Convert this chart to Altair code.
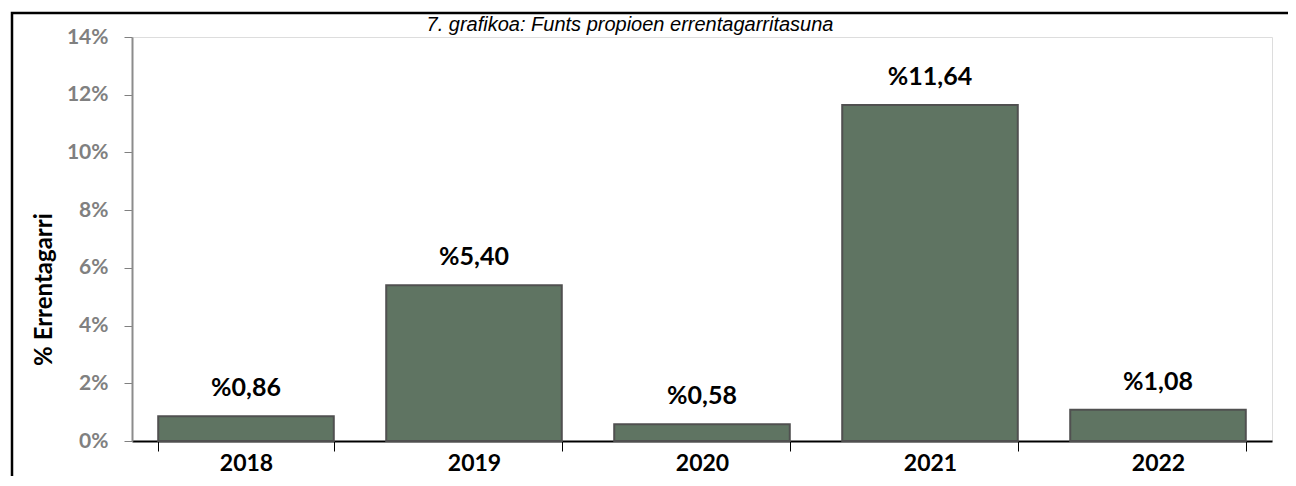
import altair as alt
import pandas as pd

years = ["2018", "2019", "2020", "2021", "2022"]
values = [0.86, 5.40, 0.58, 11.64, 1.08]
labels = ["%0,86", "%5,40", "%0,58", "%11,64", "%1,08"]
y_ticks = [0, 2, 4, 6, 8, 10, 12, 14]
title_text = "7. grafikoa: Funts propioen errentagarritasuna"
y_title = "% Errentagarri"

df = pd.DataFrame({"year": years, "value": values, "label": labels})
one = pd.DataFrame({"a": [0]})

W, H = 1140, 404

x_enc = alt.X(
    "year:N",
    sort=years,
    scale=alt.Scale(paddingInner=0.23, paddingOuter=0.115),
    axis=alt.Axis(
        title=None,
        labelAngle=0,
        labelFont="Lato",
        labelFontWeight="bold",
        labelFontSize=23,
        labelColor="black",
        labelPadding=1,
        labelBaseline="top",
        tickBand="extent",
        tickSize=10,
        tickColor="black",
        tickWidth=1,
        domainColor="black",
        domainWidth=2,
    ),
)

y_enc = alt.Y(
    "value:Q",
    scale=alt.Scale(domain=[0, 14], nice=False),
    axis=alt.Axis(
        values=y_ticks,
        labelExpr="datum.value + '%'",
        labelFont="Lato",
        labelFontWeight="bold",
        labelFontSize=21,
        labelColor="#808080",
        labelPadding=16,
        tickColor="#808080",
        tickSize=8,
        tickWidth=1,
        domainColor="#8c8c8c",
        domainWidth=2,
        grid=False,
        title=y_title,
        titleFont="Lato",
        titleFontWeight="bold",
        titleFontSize=24,
        titleColor="black",
        titleX=-88,
        titleY=252,
        titleBaseline="middle",
    ),
)

bars = alt.Chart(df).mark_bar(
    color="#5f7462", stroke="#505050", strokeWidth=2
).encode(x=x_enc, y=y_enc)

text = alt.Chart(df).mark_text(
    dy=-20, baseline="alphabetic", fontWeight="bold", fontSize=25, font="Lato", color="black"
).encode(x=alt.X("year:N", sort=years), y=alt.Y("value:Q"), text="label:N")

frame = alt.Chart(one).mark_rect(
    fill=None, fillOpacity=0, stroke="black", strokeWidth=2.5
).encode(
    x=alt.value(-120), x2=alt.value(1400), y=alt.value(-24), y2=alt.value(700)
)

title = alt.Chart(one).mark_text(
    font="Liberation Sans", fontStyle="italic", fontSize=20, baseline="alphabetic",
    align="center", color="black"
).encode(x=alt.value(498), y=alt.value(-6), text=alt.value(title_text))

chart = alt.layer(frame, bars, text, title).properties(
    width=W,
    height=H,
    autosize=alt.AutoSizeParams(type="none"),
    padding={"left": 124, "top": 29, "right": 16, "bottom": 35},
).configure_view(
    stroke="#8c8c8c", strokeWidth=2
).configure(background="white")

chart.save("out.html", embed_options={"renderer": "svg", "actions": False})
